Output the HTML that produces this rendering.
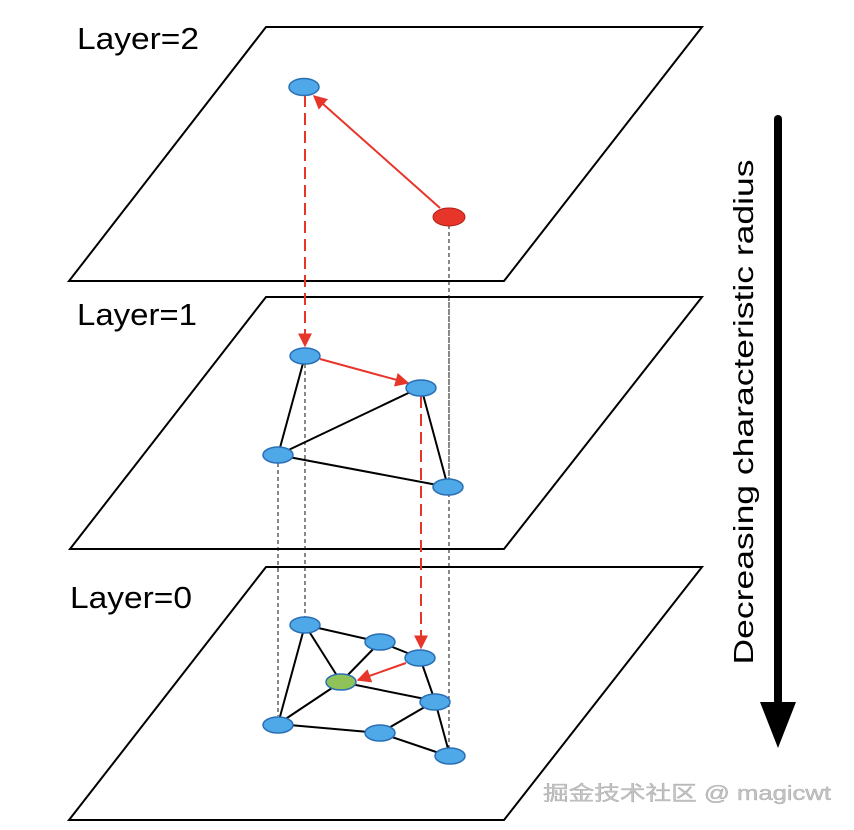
<!DOCTYPE html>
<html><head><meta charset="utf-8"><style>html,body{margin:0;padding:0;background:#fff}svg{display:block}</style></head>
<body>
<svg width="854" height="830" viewBox="0 0 854 830" xmlns="http://www.w3.org/2000/svg">
<defs>
<marker id="ra" viewBox="0 0 10 10" refX="9" refY="5" markerWidth="7" markerHeight="7" markerUnits="strokeWidth" orient="auto"><path d="M0,0 L10,5 L0,10 z" fill="#e8352a"/></marker>
</defs>
<g fill="none" stroke="#000" stroke-width="2">
<polygon points="266,27 702,27 504,281 69,281"/>
<polygon points="266,297 702,297 504,549 70,549"/>
<polygon points="266,567 702,567 504,820 69,820"/>
</g>
<g font-family="Liberation Sans, sans-serif" font-size="31" fill="#000">
<text x="77" y="49" textLength="122" lengthAdjust="spacingAndGlyphs">Layer=2</text>
<text x="77" y="325" textLength="120" lengthAdjust="spacingAndGlyphs">Layer=1</text>
<text x="70" y="608" textLength="122" lengthAdjust="spacingAndGlyphs">Layer=0</text>
</g>
<g stroke="#111" stroke-width="1" stroke-dasharray="4,3">
<line x1="449" y1="225" x2="449" y2="479"/>
<line x1="449" y1="297" x2="449" y2="748"/>
<line x1="305" y1="364" x2="305" y2="617"/>
<line x1="278" y1="463" x2="278" y2="716"/>
</g>
<g stroke="#000" stroke-width="2">
<line x1="305" y1="356" x2="278" y2="455"/>
<line x1="421" y1="387" x2="278" y2="455"/>
<line x1="278" y1="455" x2="448" y2="487"/>
<line x1="421" y1="387" x2="448" y2="487"/>
<line x1="305" y1="625" x2="380" y2="642"/>
<line x1="380" y1="642" x2="420" y2="658"/>
<line x1="305" y1="625" x2="278" y2="724"/>
<line x1="305" y1="625" x2="341" y2="682"/>
<line x1="380" y1="642" x2="341" y2="682"/>
<line x1="341" y1="682" x2="435" y2="701"/>
<line x1="341" y1="682" x2="278" y2="724"/>
<line x1="420" y1="658" x2="435" y2="701"/>
<line x1="278" y1="724" x2="380" y2="733"/>
<line x1="380" y1="733" x2="435" y2="701"/>
<line x1="380" y1="733" x2="448" y2="756"/>
<line x1="435" y1="701" x2="450" y2="756"/>
</g>
<g stroke="#e8352a" stroke-width="2" fill="none">
<line x1="440" y1="208" x2="314" y2="96" marker-end="url(#ra)"/>
<line x1="305" y1="95" x2="305" y2="346" stroke-dasharray="12,6" marker-end="url(#ra)"/>
<line x1="320" y1="359" x2="408" y2="383" marker-end="url(#ra)"/>
<line x1="421" y1="396" x2="421" y2="648" stroke-dasharray="12,6" marker-end="url(#ra)"/>
<line x1="406" y1="663" x2="358" y2="680" marker-end="url(#ra)"/>
</g>
<g fill="#4fa8e8" stroke="#2a6fb5" stroke-width="1.5">
<ellipse cx="304" cy="87" rx="15" ry="8.5"/>
<ellipse cx="305" cy="356" rx="15" ry="8"/>
<ellipse cx="421" cy="388" rx="15" ry="8"/>
<ellipse cx="278" cy="455" rx="15" ry="8"/>
<ellipse cx="448" cy="487" rx="15" ry="8"/>
<ellipse cx="305" cy="625" rx="15" ry="8"/>
<ellipse cx="380" cy="642" rx="15" ry="8"/>
<ellipse cx="420" cy="658" rx="15" ry="8"/>
<ellipse cx="435" cy="702" rx="15" ry="8"/>
<ellipse cx="278" cy="725" rx="15" ry="8"/>
<ellipse cx="380" cy="733" rx="15" ry="8"/>
<ellipse cx="450" cy="756" rx="15" ry="8"/>
</g>
<ellipse cx="341" cy="682" rx="15" ry="8" fill="#8fc35a" stroke="#2a6fb5" stroke-width="1.5"/>
<ellipse cx="449" cy="217" rx="16" ry="9" fill="#e8352a" stroke="#b02018" stroke-width="1"/>
<rect x="774" y="115" width="8" height="590" rx="4" fill="#000"/>
<polygon points="760,702 796,702 778,748" fill="#000"/>
<text transform="translate(753,412) rotate(-90)" text-anchor="middle" font-family="Liberation Sans, sans-serif" font-size="28" fill="#000" textLength="505" lengthAdjust="spacingAndGlyphs">Decreasing characteristic radius</text>
<text x="543" y="800" font-family="Liberation Sans, 'Noto Sans CJK SC', sans-serif" font-size="20" fill="#c4c4c4" stroke="#999" stroke-width="0.3" textLength="288" lengthAdjust="spacingAndGlyphs">掘金技术社区 @ magicwt</text>
</svg>
</body></html>
